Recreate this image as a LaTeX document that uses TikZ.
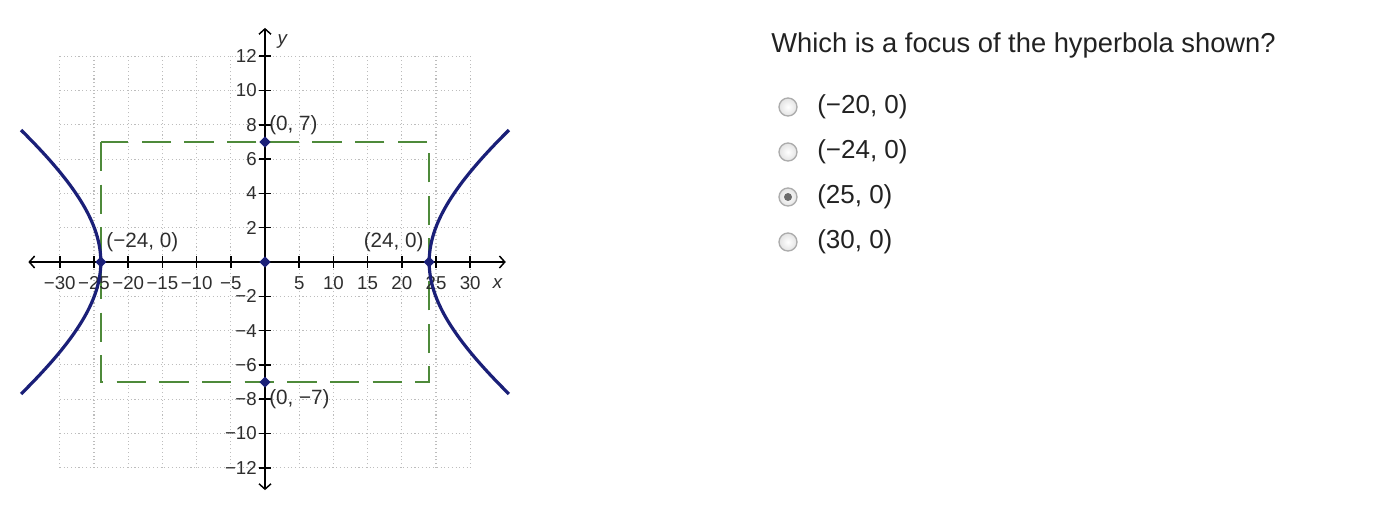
\documentclass[tikz,border=0pt]{standalone}
\usepackage{fontspec}
\setmainfont{Liberation Sans}
\usetikzlibrary{arrows.meta,shapes.geometric}
\definecolor{navy}{HTML}{1A1F78}
\definecolor{dashgreen}{HTML}{4E8A3A}
\definecolor{gridgray}{HTML}{BDBDBD}
\definecolor{txt}{HTML}{222222}
\definecolor{lbl}{HTML}{2E2E2E}
\tikzset{
  gridline/.style={gridgray, dotted, line width=0.8pt},
  axisline/.style={black, line width=1.1pt, {Straight Barb[length=4pt,width=9pt]}-{Straight Barb[length=4pt,width=9pt]}},
  tickmark/.style={black, line width=1.1pt},
  ticklabel/.style={text=lbl, font=\fontsize{14pt}{16pt}\selectfont, inner sep=0pt},
  ptlabel/.style={text=lbl, font=\fontsize{15.5pt}{17pt}\selectfont, inner sep=0pt},
  pt/.style={diamond, fill=navy, inner sep=0pt, minimum size=8.5pt},
  curve/.style={navy, line width=2.4pt},
  boxline/.style={dashgreen, line width=1.1pt, dash pattern=on 22pt off 10pt},
  question/.style={text=txt, font=\fontsize{20.5pt}{24pt}\selectfont, anchor=west, inner sep=0pt},
  option/.style={text=txt, font=\fontsize{19.5pt}{23pt}\selectfont, anchor=west, inner sep=0pt},
  radio/.style={circle, draw=gray!65, line width=1pt, inner color=white, outer color=gray!22, minimum size=13.5pt, inner sep=0pt},
  radiodot/.style={circle, fill=gray!85!black, minimum size=6pt, inner sep=0pt}
}
\begin{document}
\begin{tikzpicture}[x=0.75pt, y=-0.75pt]
\useasboundingbox (0,0) rectangle (1376,512);
\fill[white] (0,0) rectangle (1376,512);
\begin{scope}[shift={(265,262)}, x=5.13pt, y=12.8625pt]
  % grid
  \foreach \gx in {-30,-25,...,30}{\draw[gridline] (\gx,-12) -- (\gx,12);}
  \foreach \gy in {-12,-10,...,12}{\draw[gridline] (-30,\gy) -- (30,\gy);}
  % dashed box
  \draw[boxline] (-24,7) rectangle (24,-7);
  % axes
  \coordinate (xl) at (-34.6,0);
  \coordinate (xr) at (35.2,0);
  \coordinate (yt) at (0,13.65);
  \coordinate (yb) at (0,-13.3);
  \draw[axisline] (xl) -- (xr);
  \draw[axisline] (yb) -- (yt);
  % x ticks and labels
  \foreach \gx in {-30,-25,-20,-15,-10,-5,5,10,15,20,25,30}{
    \draw[tickmark] (\gx,0) ++(0,-4.5pt) -- ++(0,9pt);
  }
  \foreach \gx/\t in {-30/−30,-25/−25,-20/−20,-15/−15,-10/−10,-5/−5,5/5,10/10,15/15,20/20,25/25,30/30}{
    \node[ticklabel] (xt\gx) at ([yshift=-16pt]\gx,0) {\t};
  }
  \node[ticklabel, font=\fontsize{14pt}{16pt}\itshape] (xlab) at ([yshift=-16pt]34,0) {x};
  % y ticks and labels
  \foreach \gy in {-12,-10,-8,-6,-4,-2,2,4,6,8,10,12}{
    \draw[tickmark] (0,\gy) ++(-4.5pt,0) -- ++(9pt,0);
  }
  \foreach \gy/\t in {-12/−12,-10/−10,-8/−8,-6/−6,-4/−4,-2/−2,2/2,4/4,6/6,8/8,10/10,12/12}{
    \node[ticklabel, anchor=east] (ytk\gy) at ([xshift=-6pt]0,\gy) {\t};
  }
  \node[ticklabel, font=\fontsize{14pt}{16pt}\itshape] (ylab) at ([xshift=13pt]0,12.85) {y};
  % hyperbola
  \draw[curve] plot[domain=-0.95:0.95, samples=60, smooth] ({24*cosh(\x)},{7*sinh(\x)});
  \draw[curve] plot[domain=-0.95:0.95, samples=60, smooth] ({-24*cosh(\x)},{7*sinh(\x)});
  % points
  \node[pt] (p0) at (0,0) {};
  \node[pt] (pt7) at (0,7) {};
  \node[pt] (pb7) at (0,-7) {};
  \node[pt] (pl) at (-24,0) {};
  \node[pt] (pr) at (24,0) {};
  % point labels
  \node[ptlabel, anchor=west] (lt7) at ([xshift=3pt]0,8) {(0, 7)};
  \node[ptlabel, anchor=west] (lb7) at ([xshift=3pt]0,-8) {(0, −7)};
  \node[ptlabel, anchor=west] (ll) at ([xshift=4pt]-24,1.15) {(−24, 0)};
  \node[ptlabel, anchor=east] (lr) at ([xshift=-4pt]24,1.15) {(24, 0)};
\end{scope}
% question
\node[question] (q) at (771,45) {Which is a focus of the hyperbola shown?};
\node[radio] (r1) at (788,107) {};
\node[radio] (r2) at (788,152) {};
\node[radio] (r3) at (788,197) {};
\node[radio] (r4) at (788,242) {};
\node[radiodot] (r3dot) at (r3) {};
\node[option] (o1) at (817,107) {(−20, 0)};
\node[option] (o2) at (817,152) {(−24, 0)};
\node[option] (o3) at (817,197) {(25, 0)};
\node[option] (o4) at (817,242) {(30, 0)};
\end{tikzpicture}
\end{document}
